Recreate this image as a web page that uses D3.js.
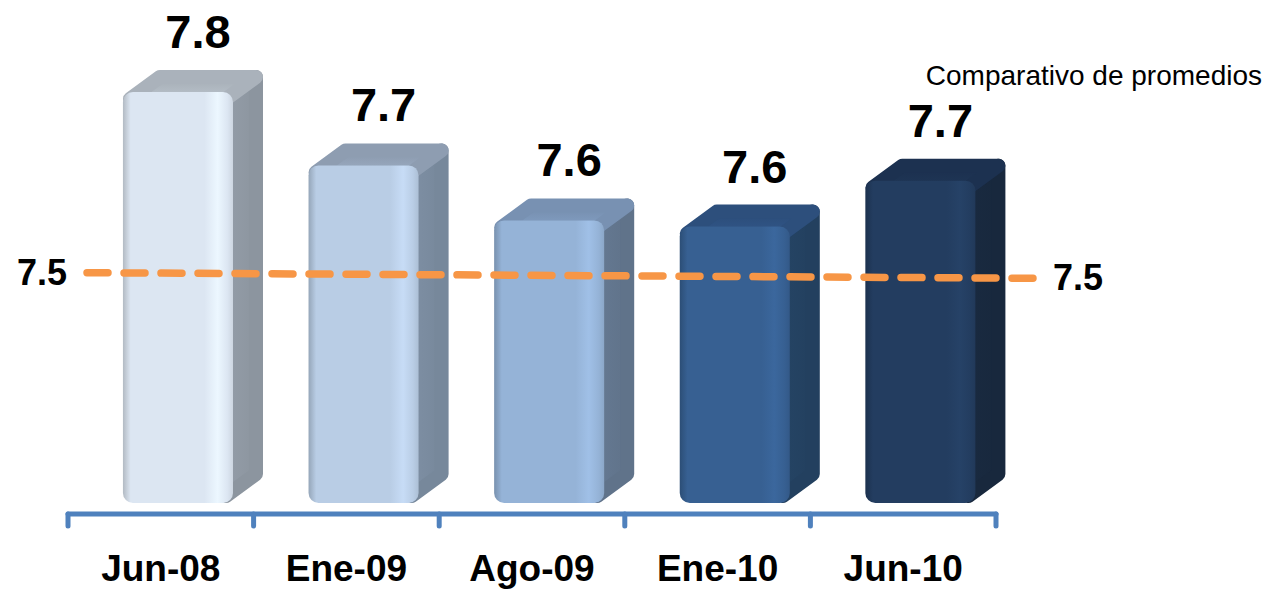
<!DOCTYPE html>
<html>
<head>
<meta charset="utf-8">
<script src="https://cdn.jsdelivr.net/npm/d3@7"></script>
<style>
  body { margin: 0; background: #fff; }
  text { font-family: "Liberation Sans", Arial, sans-serif; }
</style>
</head>
<body>
<div id="chart"></div>
<script>
// Data
const categories = ["Jun-08", "Ene-09", "Ago-09", "Ene-10", "Jun-10"];
const values = [7.80, 7.68, 7.59, 7.58, 7.655];
const referenceValue = 7.5;
const title = "Comparativo de promedios";

// Bar palette: front, top, side
const fronts = ["#dce6f2", "#b9cde5", "#95b3d7", "#376092", "#233d60"];
const tops   = ["#aab2bb", "#8e9db1", "#7891b2", "#2d4f7c", "#1c3150"];
const sides  = ["#8c959f", "#77889b", "#60738a", "#23405f", "#18283d"];

const width = 1268, height = 590;
const baseY = 503;
const depth = {dx: 30, dy: -22};

const svg = d3.select("#chart")
    .append("svg")
    .attr("width", width)
    .attr("height", height);

svg.append("rect")
    .attr("width", width)
    .attr("height", height)
    .attr("fill", "white");

const x = d3.scaleBand()
    .domain(categories)
    .range([68, 996]);

const y = d3.scaleLinear()
    .domain([7.128, 7.8])
    .range([baseY, 92]);

const frontX = d => x(d) + x.bandwidth() * 0.296;
const frontW = x.bandwidth() * 0.593;

const defs = svg.append("defs");

// gradients for each bar
categories.forEach((c, i) => {
    const base = d3.color(fronts[i]);
    const g = defs.append("linearGradient")
        .attr("id", "front" + i)
        .attr("x1", 0).attr("x2", 1).attr("y1", 0).attr("y2", 0);
    const stops = [
        [0, base.darker(0.6)],
        [0.07, base],
        [0.74, base],
        [0.86, base.brighter(0.2)],
        [0.95, base],
        [1, base.darker(0.2)]
    ];
    stops.forEach(s => g.append("stop")
        .attr("offset", s[0])
        .attr("stop-color", s[1]));

    const t = defs.append("linearGradient")
        .attr("id", "top" + i)
        .attr("x1", 0).attr("x2", 0).attr("y1", 0).attr("y2", 1);
    t.append("stop").attr("offset", 0).attr("stop-color", d3.color(tops[i]).darker(0.1));
    t.append("stop").attr("offset", 1).attr("stop-color", d3.color(tops[i]).brighter(0.25));

    const s = defs.append("linearGradient")
        .attr("id", "side" + i)
        .attr("x1", 0).attr("x2", 1).attr("y1", 0).attr("y2", 0);
    s.append("stop").attr("offset", 0).attr("stop-color", d3.color(sides[i]).brighter(0.15));
    s.append("stop").attr("offset", 1).attr("stop-color", sides[i]);
});

const bars = svg.append("g")
    .selectAll("g.bar")
    .data(values)
    .join("g")
    .attr("class", "bar");

const r = 7; // half of the rounding stroke

// side face
bars.append("path")
    .attr("d", (v, i) => {
        const x0 = frontX(categories[i]) + frontW - r;
        const x1 = x0 + depth.dx;
        const t = y(v) + r, b = baseY - r;
        return `M${x0},${t}L${x1},${t + depth.dy}L${x1},${b + depth.dy}L${x0},${b}Z`;
    })
    .attr("fill", (v, i) => `url(#side${i})`)
    .attr("stroke", (v, i) => sides[i])
    .attr("stroke-width", r * 2)
    .attr("stroke-linejoin", "round");

// top face
bars.append("path")
    .attr("d", (v, i) => {
        const x0 = frontX(categories[i]) + r;
        const x1 = x0 + frontW - 2 * r;
        const t = y(v) + r;
        return `M${x0},${t}L${x0 + depth.dx},${t + depth.dy}L${x1 + depth.dx},${t + depth.dy}L${x1},${t}Z`;
    })
    .attr("fill", (v, i) => `url(#top${i})`)
    .attr("stroke", (v, i) => tops[i])
    .attr("stroke-width", r * 2)
    .attr("stroke-linejoin", "round");

// front face
bars.append("rect")
    .attr("x", (v, i) => frontX(categories[i]))
    .attr("y", v => y(v))
    .attr("width", frontW)
    .attr("height", v => baseY - y(v))
    .attr("rx", 10)
    .attr("fill", (v, i) => `url(#front${i})`);

// value labels
bars.append("text")
    .attr("x", (v, i) => frontX(categories[i]) + frontW / 2 + 20)
    .attr("y", v => y(v) - 44)
    .attr("text-anchor", "middle")
    .attr("font-size", 47)
    .attr("font-weight", "bold")
    .attr("fill", "#000")
    .text(d3.format(".1f"));

// axis line with ticks at the band edges
const axisY = 514;
const edges = categories.map(c => x(c)).concat([x.range()[1]]);
const axis = svg.append("g")
    .attr("stroke", "#4f81bd")
    .attr("stroke-width", 5)
    .attr("stroke-linecap", "round");
axis.append("line")
    .attr("x1", x.range()[0]).attr("x2", x.range()[1])
    .attr("y1", axisY).attr("y2", axisY);
axis.selectAll("line.tick")
    .data(edges)
    .join("line")
    .attr("class", "tick")
    .attr("x1", d => d).attr("x2", d => d)
    .attr("y1", axisY).attr("y2", axisY + 12);

svg.append("g")
    .selectAll("text")
    .data(categories)
    .join("text")
    .attr("x", d => x(d) + x.bandwidth() / 2)
    .attr("y", 581)
    .attr("text-anchor", "middle")
    .attr("font-size", 37)
    .attr("font-weight", "bold")
    .text(d => d);

// reference line (slight perspective tilt)
const tilt = 2.8;
const refX0 = 87, refX1 = 1034;
svg.append("line")
    .attr("x1", refX0).attr("x2", refX1)
    .attr("y1", y(referenceValue) - tilt)
    .attr("y2", y(referenceValue) + tilt)
    .attr("stroke", "#f79646")
    .attr("stroke-width", 7.5)
    .attr("stroke-linecap", "round")
    .attr("stroke-dasharray", "21 16");

svg.append("text")
    .attr("x", 67)
    .attr("y", y(referenceValue) + 10)
    .attr("text-anchor", "end")
    .attr("font-size", 36)
    .attr("font-weight", "bold")
    .text(d3.format(".1f")(referenceValue));

svg.append("text")
    .attr("x", 1053)
    .attr("y", y(referenceValue) + 15)
    .attr("font-size", 36)
    .attr("font-weight", "bold")
    .text(d3.format(".1f")(referenceValue));

svg.append("text")
    .attr("x", 1262)
    .attr("y", 85)
    .attr("text-anchor", "end")
    .attr("font-size", 28)
    .text(title);
</script>
</body>
</html>
